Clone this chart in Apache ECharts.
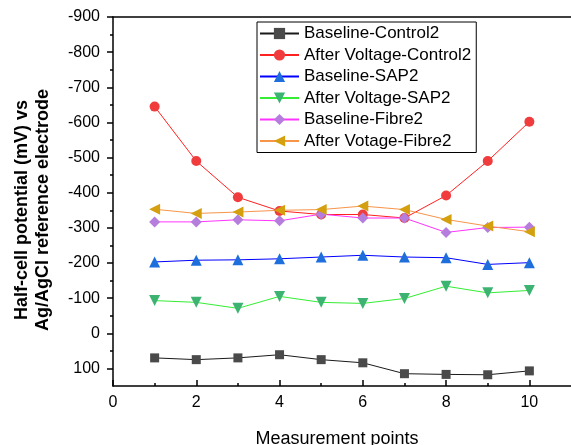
<!DOCTYPE html>
<html>
<head>
<meta charset="utf-8">
<script src="https://cdn.jsdelivr.net/npm/echarts@6/dist/echarts.min.js"></script>
<style>
html,body{margin:0;padding:0;background:#fff;}
#c{width:571px;height:445px;}
</style>
</head>
<body>
<div id="c"></div>
<script>
// ---- data ----
const xValues = [1, 2, 3, 4, 5, 6, 7, 8, 9, 10];
const baselineControl2 = [70, 75, 70, 61, 75, 84, 115, 117, 118, 107];
const afterVoltageControl2 = [-645, -490, -387, -348, -338, -338, -328, -392, -490, -602];
const baselineSAP2 = [-203, -208, -209, -212, -217, -222, -217, -215, -196, -201];
const afterVoltageSAP2 = [-93, -88, -71, -105, -88, -85, -99, -134, -115, -122];
const baselineFibre2 = [-317, -317, -323, -320, -339, -328, -328, -287, -301, -302];
const afterVotageFibre2 = [-353, -341, -345, -350, -352, -362, -352, -324, -305, -289];

const xTicks = [0, 2, 4, 6, 8, 10];
const xMinorTicks = [1, 3, 5, 7, 9];
const yTicks = [-900, -800, -700, -600, -500, -400, -300, -200, -100, 0, 100];
const yMinorTicks = [-850, -750, -650, -550, -450, -350, -250, -150, -50, 50];

const FONT = '"Liberation Sans", Arial, sans-serif';

function pairs(ys) { return xValues.map((x, i) => [x, ys[i]]); }

const seriesDefs = [
  { name: 'Baseline-Control2', data: baselineControl2, symbol: 'rect', size: 9, marker: '#4a4a4a', line: '#1a1a1a' },
  { name: 'After Voltage-Control2', data: afterVoltageControl2, symbol: 'circle', size: 10, marker: '#f03c3c', line: '#ff2020' },
  { name: 'Baseline-SAP2', data: baselineSAP2, symbol: 'triangle', size: 11, marker: '#1e6fdc', line: '#0000ff' },
  { name: 'After Voltage-SAP2', data: afterVoltageSAP2, symbol: 'path://M0,0L10,0L5,9Z', size: 11, marker: '#3cb371', line: '#33ee33' },
  { name: 'Baseline-Fibre2', data: baselineFibre2, symbol: 'diamond', size: 11, marker: '#b57edc', line: '#ff33ff' },
  { name: 'After Votage-Fibre2', data: afterVotageFibre2, symbol: 'path://M9,0L9,10L0,5Z', size: 11, marker: '#d4a010', line: '#f7954a' }
];

const chart = echarts.init(document.getElementById('c'), null, { renderer: 'canvas' });

const axisLine = { show: true, onZero: false, lineStyle: { color: '#000', width: 1.5 } };

const option = {
  backgroundColor: '#fff',
  animation: false,
  textStyle: { fontFamily: FONT },
  grid: { left: 113, top: 17, right: 0, bottom: 59, containLabel: false },
  xAxis: [
    {
      type: 'value', min: 0, max: 11, position: 'bottom',
      axisLine: axisLine,
      axisTick: { show: true, inside: true, length: 6, customValues: xTicks, lineStyle: { color: '#000', width: 1.5 } },
      axisLabel: { customValues: xTicks, fontSize: 16, color: '#000', margin: 9, fontFamily: FONT },
      splitLine: { show: false }
    },
    {
      type: 'value', min: 0, max: 11, position: 'bottom',
      axisLine: { show: false, onZero: false },
      axisTick: { show: true, inside: true, length: 3, customValues: xMinorTicks, lineStyle: { color: '#000', width: 1.5 } },
      axisLabel: { show: false },
      splitLine: { show: false }
    },
    {
      type: 'value', min: 0, max: 11, position: 'top',
      axisLine: axisLine,
      axisTick: { show: false },
      axisLabel: { show: false },
      splitLine: { show: false }
    }
  ],
  yAxis: [
    {
      type: 'value', min: -900, max: 150, inverse: true, position: 'left',
      axisLine: axisLine,
      axisTick: { show: true, inside: false, length: 6, customValues: yTicks, lineStyle: { color: '#000', width: 1.5 } },
      axisLabel: { customValues: yTicks, fontSize: 16, color: '#000', margin: 13, fontFamily: FONT },
      splitLine: { show: false }
    },
    {
      type: 'value', min: -900, max: 150, inverse: true, position: 'left',
      axisLine: { show: false, onZero: false },
      axisTick: { show: true, inside: false, length: 3, customValues: yMinorTicks, lineStyle: { color: '#000', width: 1.5 } },
      axisLabel: { show: false },
      splitLine: { show: false }
    }
  ],
  legend: {
    orient: 'vertical',
    left: 257, top: 22,
    borderColor: '#000', borderWidth: 1,
    padding: [3, 5, 3, 2],
    itemWidth: 39, itemHeight: 14, itemGap: 4.5,
    textStyle: { fontSize: 17, color: '#000', fontFamily: FONT },
    data: seriesDefs.map(s => s.name)
  },
  graphic: [
    {
      type: 'text', x: 33, y: 210, rotation: Math.PI / 2,
      style: {
        text: 'Half-cell potential (mV) vs\nAg/AgCl reference electrode',
        font: 'bold 18px ' + FONT, fill: '#000',
        textAlign: 'center', textVerticalAlign: 'middle', lineHeight: 21
      }
    },
    {
      type: 'text', x: 337, y: 439,
      style: {
        text: 'Measurement points',
        font: '18px ' + FONT, fill: '#000',
        textAlign: 'center', textVerticalAlign: 'middle'
      }
    }
  ],
  series: seriesDefs.map(s => ({
    name: s.name,
    type: 'line',
    xAxisIndex: 0, yAxisIndex: 0,
    data: pairs(s.data),
    symbol: s.symbol,
    symbolSize: s.size,
    showAllSymbol: true,
    itemStyle: { color: s.marker, borderWidth: 0 },
    lineStyle: { color: s.line, width: 1 },
    emphasis: { disabled: true }
  }))
};

chart.setOption(option);
</script>
</body>
</html>
